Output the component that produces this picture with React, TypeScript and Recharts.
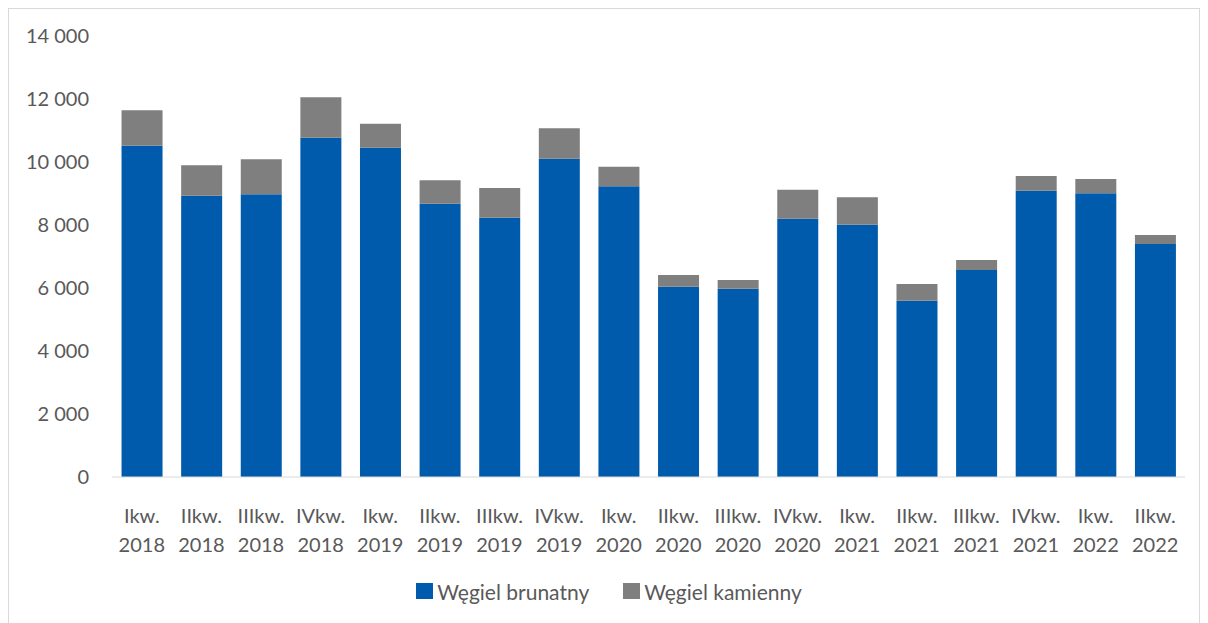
import React from 'react';
import { BarChart, Bar, XAxis, YAxis, Legend } from 'recharts';

const quarters = [
  'Ikw.|2018', 'IIkw.|2018', 'IIIkw.|2018', 'IVkw.|2018',
  'Ikw.|2019', 'IIkw.|2019', 'IIIkw.|2019', 'IVkw.|2019',
  'Ikw.|2020', 'IIkw.|2020', 'IIIkw.|2020', 'IVkw.|2020',
  'Ikw.|2021', 'IIkw.|2021', 'IIIkw.|2021', 'IVkw.|2021',
  'Ikw.|2022', 'IIkw.|2022',
];
const brunatny = [10518, 8930, 8975, 10772, 10454, 8676, 8232, 10105, 9228, 6041, 5978, 8200, 8010, 5597, 6571, 9089, 9005, 7397];
const kamienny = [1123, 965, 1111, 1282, 762, 743, 943, 964, 623, 372, 276, 921, 869, 530, 318, 467, 455, 286];
const yTicks = [0, 2000, 4000, 6000, 8000, 10000, 12000, 14000];

const data = quarters.map((q, i) => ({ q, brunatny: brunatny[i], kamienny: kamienny[i] }));

const FONT = 'Lato, "Open Sans", sans-serif';
const TEXT = '#595959';

const fmt = (v: number) => v.toLocaleString('en-US').replace(/,/g, ' ');

function QuarterTick(props: any) {
  const { x, y, payload } = props;
  const [a, b] = String(payload.value).split('|');
  return (
    <g transform={`translate(${x},${y})`}>
      <text textAnchor="middle" fill={TEXT} fontSize={20} fontFamily={FONT}>
        <tspan x={0} y={38}>{a}</tspan>
        <tspan x={0} y={67}>{b}</tspan>
      </text>
    </g>
  );
}

function LegendBox(props: any) {
  const { payload } = props;
  return (
    <div
      style={{
        height: 24,
        display: 'flex',
        justifyContent: 'center',
        alignItems: 'center',
        paddingLeft: 24,
        fontFamily: FONT,
        fontSize: 21,
        color: TEXT,
      }}
    >
      {payload.map((p: any, i: number) => (
        <div key={i} style={{ display: 'flex', alignItems: 'center', marginLeft: i ? 34 : 0 }}>
          <span style={{ width: 17, height: 16, background: p.color, display: 'inline-block', marginRight: 4 }} />
          <span>{p.value}</span>
        </div>
      ))}
    </div>
  );
}

export default function App() {
  return (
    <div style={{ width: 1192, height: 620, border: '1px solid #d9d9d9', boxSizing: 'border-box' }}>
      <BarChart
        width={1190}
        height={610}
        data={data}
        margin={{ top: 27, right: 14, left: 0, bottom: 0 }}
        barCategoryGap="16%"
      >
        <XAxis
          dataKey="q"
          tick={<QuarterTick />}
          tickLine={false}
          axisLine={{ stroke: '#d9d9d9' }}
          interval={0}
          height={118}
        />
        <YAxis
          width={103}
          domain={[0, 14000]}
          ticks={yTicks}
          tickFormatter={fmt}
          axisLine={false}
          tickLine={false}
          tickSize={0}
          tickMargin={23}
          tick={{ fill: TEXT, fontSize: 20, fontFamily: FONT }}
        />
        <Legend content={<LegendBox />} wrapperStyle={{ top: 570 }} />
        <Bar dataKey="brunatny" name="Węgiel brunatny" stackId="a" fill="#005BAC" isAnimationActive={false} />
        <Bar dataKey="kamienny" name="Węgiel kamienny" stackId="a" fill="#7F7F7F" isAnimationActive={false} />
      </BarChart>
    </div>
  );
}
